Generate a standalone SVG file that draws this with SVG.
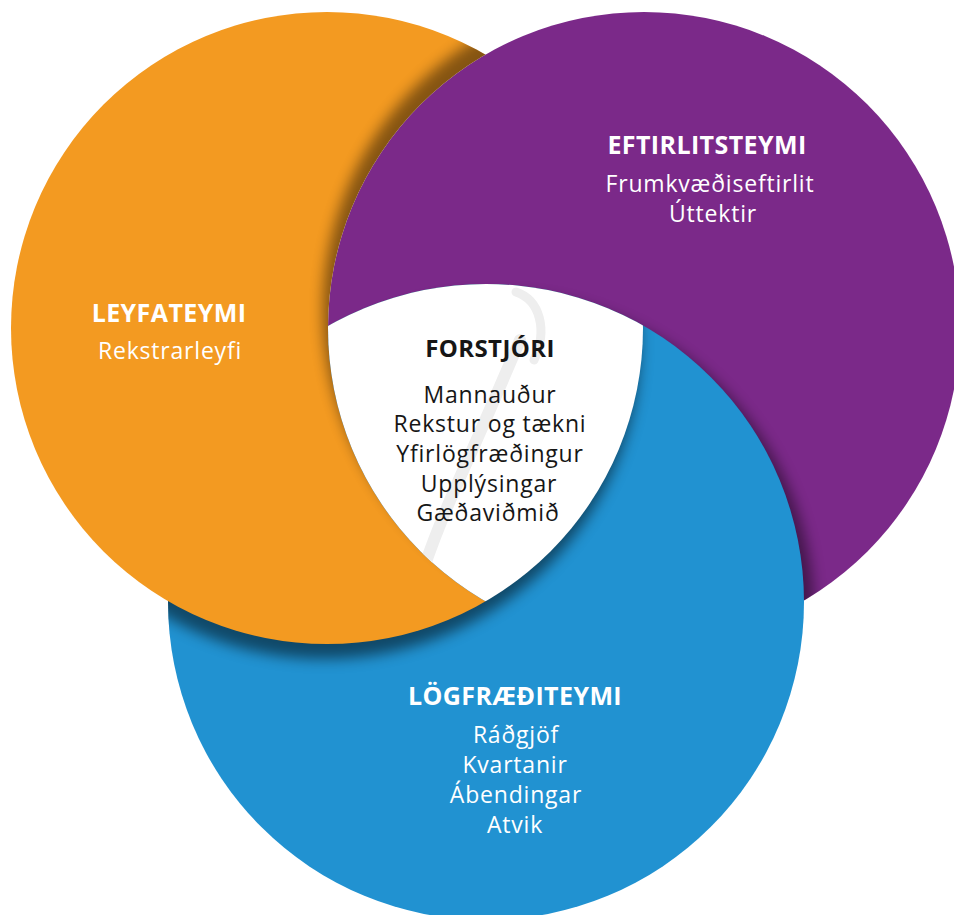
<svg xmlns="http://www.w3.org/2000/svg" width="954" height="915" viewBox="0 0 954 915">
<defs>
<style>
.t{font-family:"Open Sans","Noto Sans","Liberation Sans",sans-serif;text-anchor:middle}
.h{font-weight:700;font-size:25px;letter-spacing:0.4px}
.s{font-size:23px;letter-spacing:0.8px}
.w{fill:#ffffff}
.k{fill:#161616}
.sh{fill:#000;filter:url(#blur)}
</style>
<filter id="blur" x="-20%" y="-20%" width="140%" height="140%"><feGaussianBlur stdDeviation="7"/></filter>
<clipPath id="cO"><circle cx="327" cy="328" r="316"/></clipPath>
<clipPath id="cP"><circle cx="644" cy="328" r="316"/></clipPath>
<clipPath id="cB"><circle cx="486" cy="602" r="318"/></clipPath>
<mask id="notP" maskUnits="userSpaceOnUse" x="0" y="0" width="954" height="915">
<rect width="954" height="915" fill="#fff"/>
<circle cx="644" cy="328" r="316" fill="#000"/>
</mask>
</defs>
<rect width="954" height="915" fill="#ffffff"/>

<g id="eftirlitsteymi">
<circle cx="644" cy="328" r="316" fill="#7B2989"/>
<g clip-path="url(#cP)"><circle class="sh" cx="496" cy="612" r="318" opacity="0.45"/></g>
<text class="t h w" x="707" y="154">EFTIRLITSTEYMI</text>
<text class="t s w" x="710" y="192">Frumkvæðiseftirlit</text>
<text class="t s w" x="713" y="222">Úttektir</text>
</g>

<g id="logfraediteymi">
<circle cx="486" cy="602" r="318" fill="#2192D1"/>
<g clip-path="url(#cB)"><circle class="sh" cx="324" cy="343" r="316" opacity="0.5"/></g>
<text class="t h w" x="515" y="705">LÖGFRÆÐITEYMI</text>
<text class="t s w" x="516" y="743">Ráðgjöf</text>
<text class="t s w" x="515" y="773">Kvartanir</text>
<text class="t s w" x="516" y="803">Ábendingar</text>
<text class="t s w" x="515" y="833">Atvik</text>
</g>

<g id="leyfateymi">
<g mask="url(#notP)">
<circle cx="327" cy="328" r="316" fill="#F39A21"/>
<g clip-path="url(#cO)"><circle class="sh" cx="639" cy="310" r="316" opacity="0.45"/></g>
</g>
<text class="t h w" x="169" y="322">LEYFATEYMI</text>
<text class="t s w" x="170" y="359">Rekstrarleyfi</text>
</g>

<g id="forstjori">
<g clip-path="url(#cP)"><g clip-path="url(#cB)">
<circle cx="327" cy="328" r="316" fill="#ffffff"/>
<path d="M516 292 C540 300 548 330 534 360" fill="none" stroke="#eeeeee" stroke-width="9" stroke-linecap="round"/>
<path d="M520 340 C505 375 490 410 470 455 C452 495 432 540 416 592" fill="none" stroke="#eeeeee" stroke-width="12" stroke-linecap="round"/>
</g></g>
<text class="t h k" x="490" y="357" style="font-size:24px">FORSTJÓRI</text>
<text class="t s k" x="490" y="403">Mannauður</text>
<text class="t s k" x="490" y="432">Rekstur og tækni</text>
<text class="t s k" x="490" y="462">Yfirlögfræðingur</text>
<text class="t s k" x="489" y="492">Upplýsingar</text>
<text class="t s k" x="488" y="521">Gæðaviðmið</text>
</g>
</svg>
